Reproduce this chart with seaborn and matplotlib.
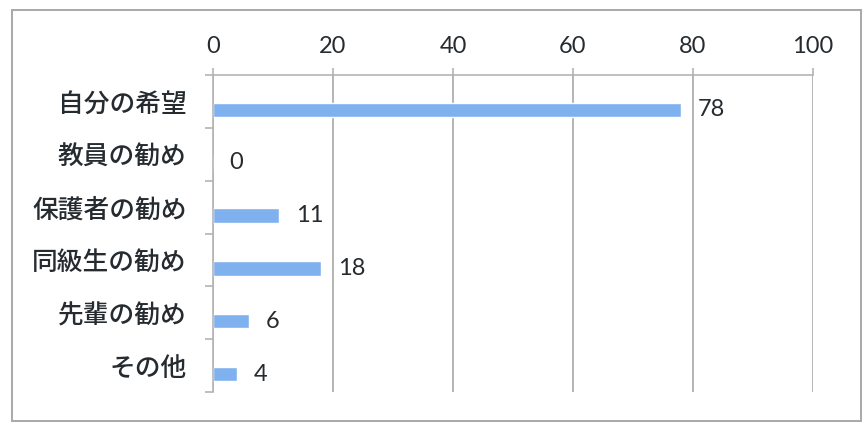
import matplotlib
matplotlib.use("Agg")
import matplotlib.pyplot as plt
import matplotlib.patches as mpatches
import seaborn as sns
import pandas as pd

categories = ["自分の希望", "教員の勧め", "保護者の勧め", "同級生の勧め", "先輩の勧め", "その他"]
values = [78, 0, 11, 18, 6, 4]
x_ticks = [0, 20, 40, 60, 80, 100]

df = pd.DataFrame({"category": categories, "value": values})

sns.set_theme(style="white")
plt.rcParams["font.family"] = ["Noto Sans CJK JP", "DejaVu Sans"]

text_color = "#262b30"
grid_color = "#b4b4b4"
bar_color = "#80b1ef"
num_font = ["Lato", "DejaVu Sans"]

fig = plt.figure(figsize=(8.65, 4.23), dpi=100)
fig.patch.set_facecolor("white")

# outer chart frame
fig.add_artist(mpatches.Rectangle((12 / 865, 1 - 421 / 423), 849 / 865, 411 / 423,
                                  transform=fig.transFigure, fill=False,
                                  edgecolor="#a8a8a8", linewidth=1.4))

ax = fig.add_axes([213 / 865, 1 - 392 / 423, 600 / 865, 317 / 423])

sns.barplot(data=df, x="value", y="category", orient="h", color=bar_color,
            width=0.27, saturation=1, ax=ax)

# category bands sit slightly above the bars
shift = 0.16
n = len(categories)
ax.set_ylim(n - 1 + 0.34, -0.66)
ax.set_yticks([i - shift for i in range(n)])
ax.set_yticklabels(categories, fontsize=18.5, color=text_color, fontweight=500)
ax.set_yticks([i + 0.34 for i in range(-1, n)], minor=True)

ax.set_xlim(0, 100)
ax.set_xticks(x_ticks)
ax.set_xticklabels([str(t) for t in x_ticks], fontsize=17, color=text_color,
                   family=num_font)
ax.xaxis.tick_top()
ax.set_xlabel("")
ax.set_ylabel("")

ax.grid(axis="x", color=grid_color, linewidth=1.4)
ax.set_axisbelow(True)
for side in ["bottom", "right"]:
    ax.spines[side].set_visible(False)
for side in ["top", "left"]:
    ax.spines[side].set_visible(True)
    ax.spines[side].set_color(grid_color)
    ax.spines[side].set_linewidth(1.2)

ax.tick_params(axis="x", which="major", top=True, length=5, width=1.2,
               color=grid_color, pad=8)
ax.tick_params(axis="y", which="major", left=False, length=0, pad=19)
ax.tick_params(axis="y", which="minor", left=True, length=6, width=1.2,
               color=grid_color)

for i, v in enumerate(values):
    ax.annotate(str(v), xy=(v, i), xytext=(12, 0), textcoords="offset points",
                va="center", ha="left", fontsize=17, color=text_color,
                family=num_font)

fig.savefig("out.png", dpi=100, facecolor="white")
